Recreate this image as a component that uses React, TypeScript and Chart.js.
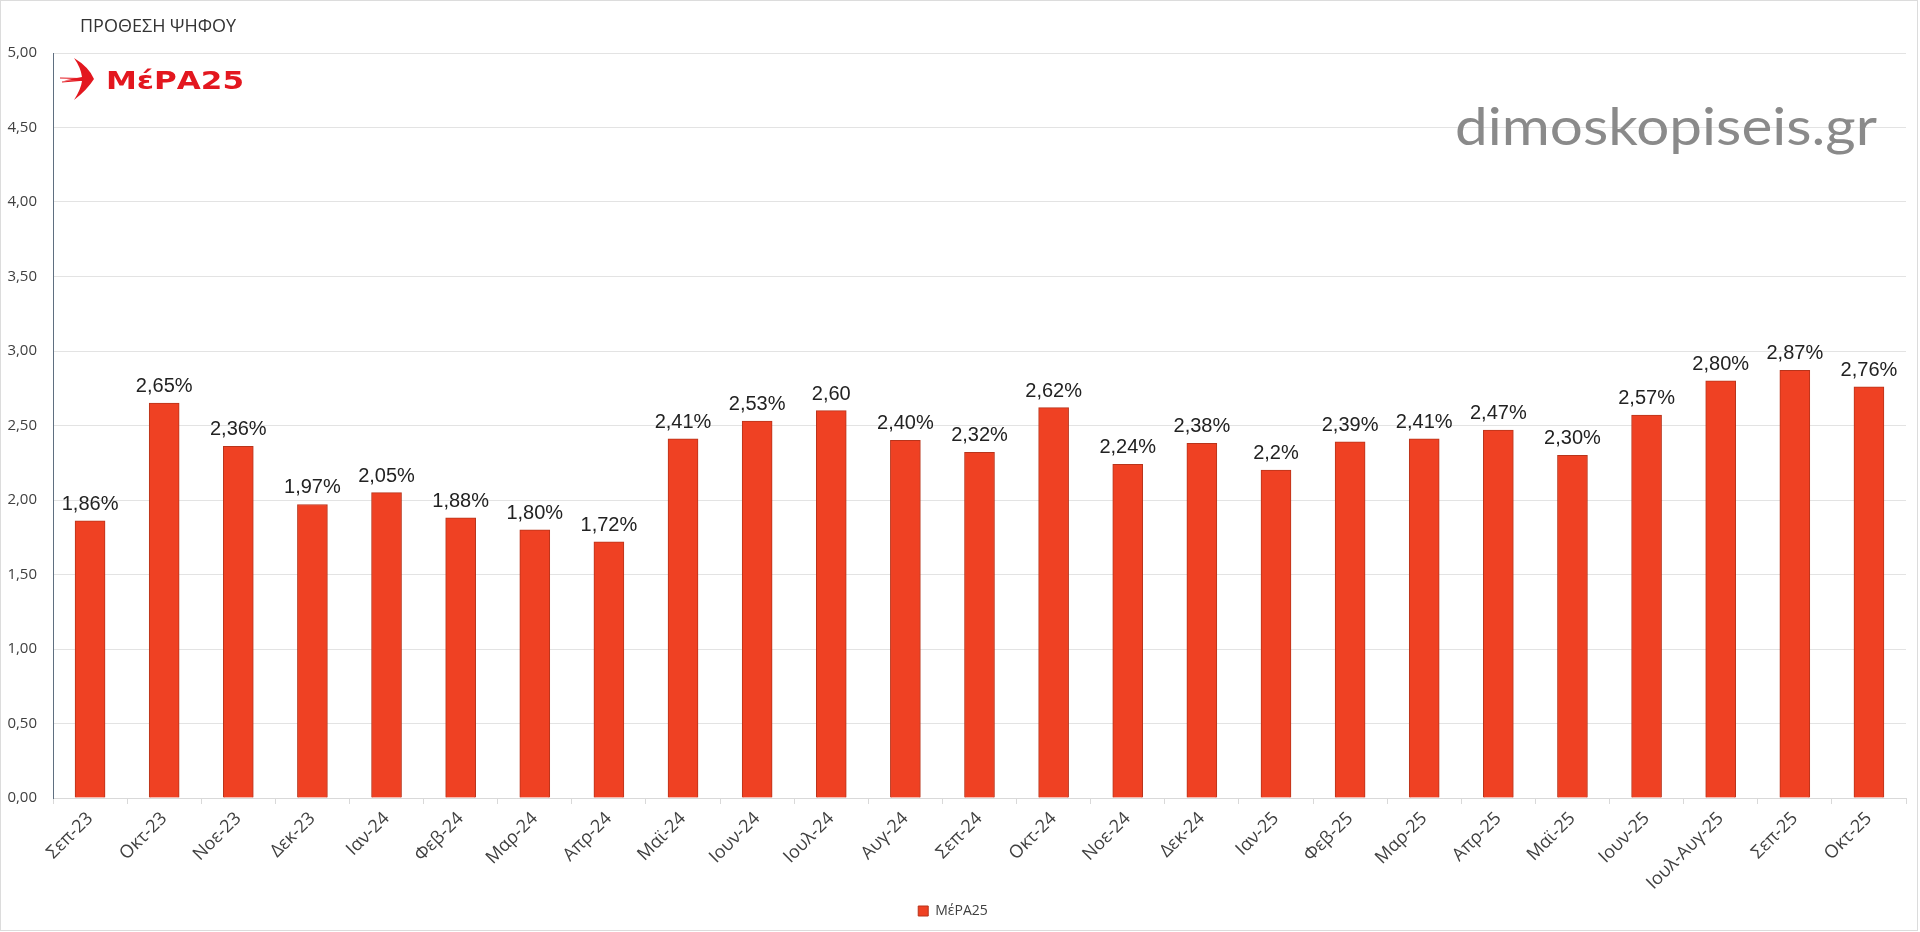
import React, { useEffect, useRef } from "react";
import { Chart, registerables } from "chart.js";

Chart.register(...registerables);

const categories = [
  "Σεπ-23", "Οκτ-23", "Νοε-23", "Δεκ-23", "Ιαν-24", "Φεβ-24", "Μαρ-24", "Απρ-24",
  "Μαϊ-24", "Ιουν-24", "Ιουλ-24", "Αυγ-24", "Σεπ-24", "Οκτ-24", "Νοε-24", "Δεκ-24",
  "Ιαν-25", "Φεβ-25", "Μαρ-25", "Απρ-25", "Μαϊ-25", "Ιουν-25", "Ιουλ-Αυγ-25", "Σεπ-25", "Οκτ-25",
];

const values = [
  1.86, 2.65, 2.36, 1.97, 2.05, 1.88, 1.8, 1.72,
  2.41, 2.53, 2.6, 2.4, 2.32, 2.62, 2.24, 2.38,
  2.2, 2.39, 2.41, 2.47, 2.3, 2.57, 2.8, 2.87, 2.76,
];

const valueLabels = [
  "1,86%", "2,65%", "2,36%", "1,97%", "2,05%", "1,88%", "1,80%", "1,72%",
  "2,41%", "2,53%", "2,60", "2,40%", "2,32%", "2,62%", "2,24%", "2,38%",
  "2,2%", "2,39%", "2,41%", "2,47%", "2,30%", "2,57%", "2,80%", "2,87%", "2,76%",
];

const seriesName = "ΜέΡΑ25";
const chartTitle = "ΠΡΟΘΕΣΗ ΨΗΦΟΥ";
const watermark = "dimoskopiseis.gr";

const FONT = "'Liberation Sans', Arial, sans-serif";
const AXFONT = "'Open Sans', 'Liberation Sans', sans-serif";

const decorPlugin = {
  id: "decor",
  beforeDraw(chart: any) {
    const ctx = chart.ctx;
    ctx.save();
    ctx.fillStyle = "#ffffff";
    ctx.fillRect(0, 0, chart.width, chart.height);
    ctx.strokeStyle = "#dcdcdc";
    ctx.lineWidth = 1;
    ctx.strokeRect(0.5, 0.5, 1917, 930);
    ctx.restore();
  },
  afterDraw(chart: any) {
    const ctx = chart.ctx;
    ctx.save();
    // title
    ctx.fillStyle = "#333333";
    ctx.font = `18px ${AXFONT}`;
    ctx.textBaseline = "alphabetic";
    ctx.textAlign = "left";
    ctx.fillText(chartTitle, 80, 32);

    // logo swallow
    ctx.fillStyle = "#e3171f";
    ctx.beginPath();
    ctx.moveTo(74, 58);
    ctx.quadraticCurveTo(89, 67, 94, 79);
    ctx.quadraticCurveTo(87, 90, 74, 100);
    ctx.quadraticCurveTo(81, 89, 82, 81);
    ctx.lineTo(64, 80.5);
    ctx.lineTo(82, 77);
    ctx.quadraticCurveTo(81, 68, 74, 58);
    ctx.closePath();
    ctx.fill();
    ctx.strokeStyle = "#e3171f";
    ctx.lineWidth = 1.2;
    ctx.beginPath();
    ctx.moveTo(60, 78); ctx.lineTo(80, 78.5);
    ctx.moveTo(62, 82); ctx.lineTo(80, 80.5);
    ctx.stroke();

    // logo text
    ctx.font = `bold 24px 'DejaVu Sans', ${FONT}`;
    const lw = ctx.measureText(seriesName).width;
    ctx.translate(106, 89);
    ctx.scale(138 / lw, 1);
    ctx.fillText(seriesName, 0, 0);
    ctx.restore();

    // watermark
    ctx.save();
    ctx.fillStyle = "#8a8a8a";
    ctx.font = `400 52px Lato, ${FONT}`;
    const ww = ctx.measureText(watermark).width;
    ctx.translate(1455, 128);
    ctx.scale(422 / ww, 1);
    ctx.fillText(watermark, 0, 0);
    ctx.restore();

    // data labels
    const meta = chart.getDatasetMeta(0);
    ctx.save();
    ctx.fillStyle = "#222222";
    ctx.font = `20px ${FONT}`;
    ctx.textAlign = "center";
    ctx.textBaseline = "alphabetic";
    meta.data.forEach((bar: any, i: number) => {
      ctx.fillText(valueLabels[i], bar.x, bar.y - 11);
    });
    ctx.restore();
  },
};

export default function App() {
  const ref = useRef<HTMLCanvasElement>(null);
  useEffect(() => {
    document.body.style.margin = "0";
    const chart = new Chart(ref.current!, {
      type: "bar",
      data: {
        labels: categories,
        datasets: [
          {
            label: seriesName,
            data: values,
            backgroundColor: "#ef4123",
            borderColor: "#b8341b",
            borderWidth: 1,
            barThickness: 30,
          },
        ],
      },
      options: {
        responsive: false,
        animation: false,
        layout: { padding: { top: 53, right: 14, bottom: 4, left: 0 } },
        plugins: {
          legend: {
            position: "bottom",
            labels: {
              boxWidth: 10,
              boxHeight: 10,
              padding: 3,
              color: "#404040",
              font: { family: AXFONT, size: 14 },
            },
          },
          tooltip: { enabled: false },
          title: { display: false },
        },
        scales: {
          x: {
            grid: {
              display: true,
              drawOnChartArea: false,
              drawTicks: true,
              tickLength: 6,
              color: "#d9d9d9",
            },
            border: { color: "#d9d9d9" },
            ticks: {
              color: "#404040",
              font: { family: AXFONT, size: 18 },
              maxRotation: 45,
              minRotation: 45,
              autoSkip: false,
              padding: 4,
            },
            afterFit(scale: any) {
              scale.height = 103;
            },
          },
          y: {
            min: 0,
            max: 5,
            ticks: {
              stepSize: 0.5,
              color: "#404040",
              padding: 16,
              font: { family: AXFONT, size: 15 },
              callback: (v: any) => Number(v).toFixed(2).replace(".", ","),
            },
            grid: { color: "#e3e3e3", drawTicks: false },
            border: { color: "#5f6f80", width: 1 },
            afterFit(scale: any) {
              scale.width = 53;
            },
          },
        },
      },
      plugins: [decorPlugin],
    } as any);
    return () => chart.destroy();
  }, []);
  return <canvas ref={ref} width={1920} height={932} style={{ display: "block" }} />;
}
